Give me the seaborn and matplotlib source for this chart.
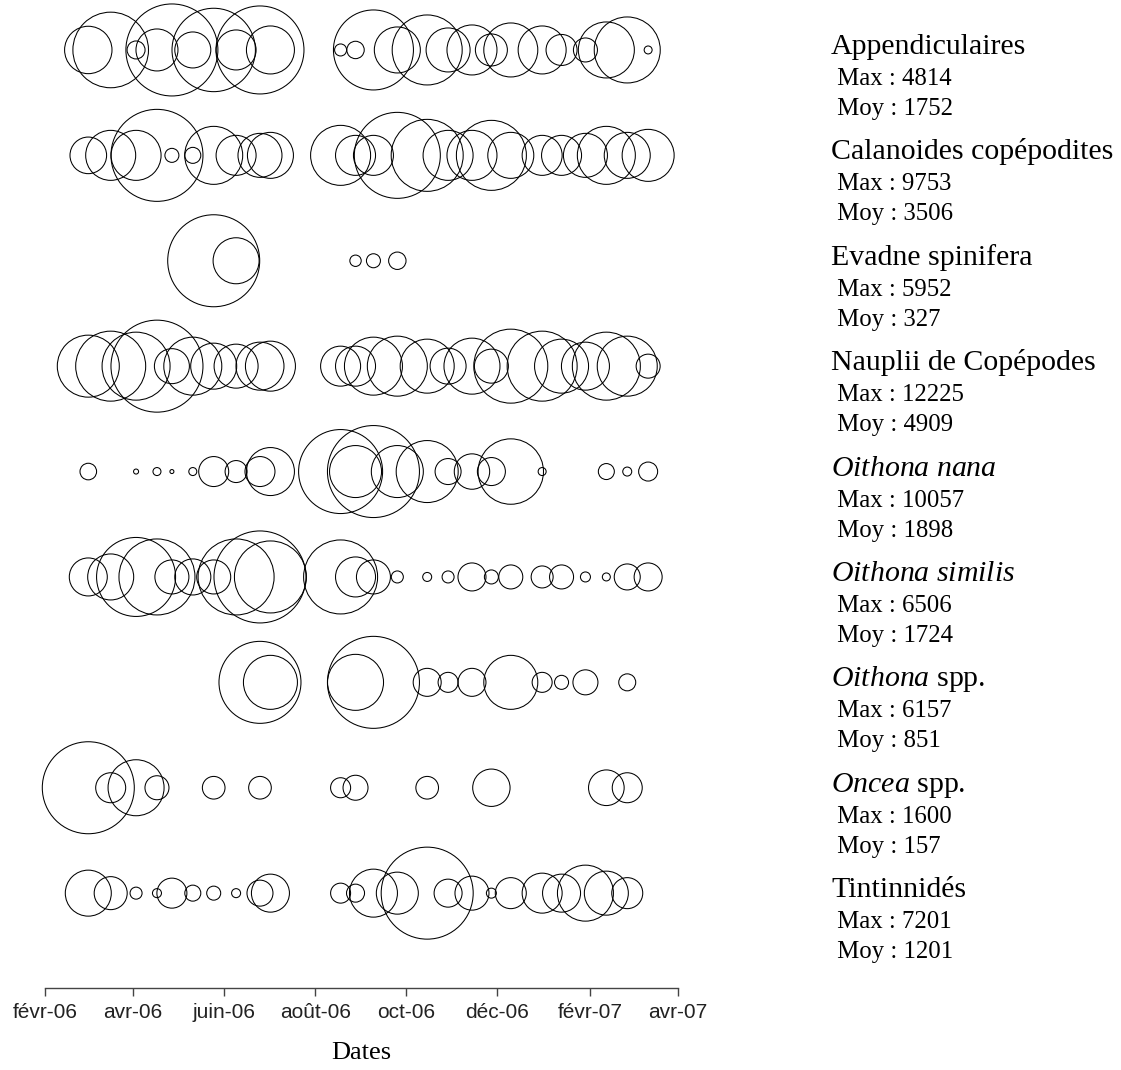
import pandas as pd
import seaborn as sns
import matplotlib
matplotlib.use("Agg")
import matplotlib.pyplot as plt
from matplotlib import transforms

# sampling dates (shared by every taxon)
dates = ["2006-03-02", "2006-03-17", "2006-04-03", "2006-04-17", "2006-04-27",
         "2006-05-11", "2006-05-25", "2006-06-09", "2006-06-25", "2006-07-02",
         "2006-08-18", "2006-08-28", "2006-09-09", "2006-09-25", "2006-10-15",
         "2006-10-29", "2006-11-14", "2006-11-27", "2006-12-10", "2006-12-31",
         "2007-01-13", "2007-01-29", "2007-02-12", "2007-02-26", "2007-03-12"]

species = ["Appendiculaires", "Calanoides copépodites", "Evadne spinifera",
           "Nauplii de Copépodes", r"$\mathit{Oithona\ nana}$",
           r"$\mathit{Oithona\ similis}$", r"$\mathit{Oithona}$ spp.",
           r"$\mathit{Oncea}$ spp.", "Tintinnidés"]
maxima = [4814, 9753, 5952, 12225, 10057, 6506, 6157, 1600, 7201]
moyennes = [1752, 3506, 327, 4909, 1898, 1724, 851, 157, 1201]

# abundances (0 = absent)
appendiculaires = [1278, 3250, 184, 1003, 4814, 737, 3956, 910, 4404, 1310, 82, 172, 3640,
                   1204, 2787, 1101, 1422, 582, 1658, 1310, 547, 328, 1784, 2478, 36]
calanoides = [1544, 2881, 2881, 9753, 226, 295, 3876, 1844, 2231, 2438, 4148, 1844, 1844,
              8522, 5973, 2881, 2881, 5646, 2438, 1844, 1844, 2231, 3876, 2438, 3116]
evadne = [0, 0, 0, 0, 0, 0, 5952, 1488, 0, 0, 0, 91, 138,
          213, 0, 0, 0, 0, 0, 0, 0, 0, 0, 0, 0]
nauplii = [5552, 7077, 6679, 12225, 1769, 4858, 3056, 2796, 3328, 3611, 2311, 2311, 4858,
           5200, 4212, 1872, 4529, 1670, 7909, 7077, 4212, 3328, 6679, 5200, 832]
oithona_nana = [327, 0, 30, 76, 19, 76, 1069, 575, 1069, 2738, 8384, 3213, 10057,
                3213, 4567, 803, 1489, 932, 5082, 76, 0, 0, 304, 96, 429]
oithona_similis = [1110, 1627, 4797, 4440, 889, 1000, 889, 4440, 6506, 3985, 4209, 1230, 889,
                   111, 62, 111, 603, 151, 443, 372, 443, 77, 49, 520, 603]
oithona_spp = [0, 0, 0, 0, 0, 0, 0, 0, 4891, 2121, 0, 2281, 6157,
               0, 570, 291, 570, 0, 2121, 291, 143, 455, 0, 210, 0]
oncea_spp = [1600, 170, 593, 109, 0, 0, 97, 0, 97, 0, 76, 118, 0,
             0, 97, 0, 0, 264, 0, 0, 0, 0, 240, 170, 0]
tintinnides = [1800, 927, 123, 69, 766, 218, 167, 69, 575, 1229, 340, 276, 1960,
               1501, 7201, 667, 983, 85, 818, 1361, 1229, 2668, 1647, 818, 0]

series = [appendiculaires, calanoides, evadne, nauplii, oithona_nana,
          oithona_similis, oithona_spp, oncea_spp, tintinnides]

tick_dates = ["2006-02-01", "2006-04-01", "2006-06-01", "2006-08-01",
              "2006-10-01", "2006-12-01", "2007-02-01", "2007-04-01"]
tick_labels = ["févr-06", "avr-06", "juin-06", "août-06",
               "oct-06", "déc-06", "févr-07", "avr-07"]

# long table, each taxon scaled to its own maximum
records = []
for i, vals in enumerate(series):
    vmax = max(vals)
    for d, v in zip(dates, vals):
        if v > 0:
            records.append({"date": pd.Timestamp(d), "row": i, "rel": v / vmax})
df = pd.DataFrame(records)

sns.set_style("ticks")
plt.rcParams["font.family"] = ["Liberation Serif", "DejaVu Serif"]
plt.rcParams["mathtext.fontset"] = "custom"
plt.rcParams["mathtext.rm"] = "Liberation Serif"
plt.rcParams["mathtext.it"] = "Liberation Serif:italic"
plt.rcParams["text.color"] = "black"
plt.rcParams["axes.labelcolor"] = "black"

fig = plt.figure(figsize=(11.21, 10.70), dpi=100)
ax = fig.add_axes([45 / 1121, 82 / 1070, 633 / 1121, 988 / 1070])

r_max_pt = 46 * 0.72
sns.scatterplot(data=df, x="date", y="row", size="rel", sizes=(0, (2 * r_max_pt) ** 2),
                size_norm=(0, 1), facecolor="none", edgecolor="black", linewidth=0.75,
                legend=False, clip_on=False, ax=ax)

ax.set_xlim(pd.Timestamp(tick_dates[0]), pd.Timestamp(tick_dates[-1]))
ax.set_ylim(8.90, -0.474)
ax.set_yticks([])
ax.set_ylabel("")
ax.set_xticks(pd.to_datetime(tick_dates))
ax.set_xticklabels(tick_labels, family="Liberation Sans", fontsize=15, color="#222222")
ax.tick_params(axis="x", length=6, width=1, color="#444444", pad=5)
ax.set_xlabel("Dates", fontsize=19, labelpad=14)
for side in ["top", "right", "left"]:
    ax.spines[side].set_visible(False)
ax.spines["bottom"].set_color("#444444")
ax.spines["bottom"].set_linewidth(1)

# labels on the right
trans = transforms.blended_transform_factory(fig.transFigure, ax.transData)
for i, name in enumerate(species):
    ax.annotate(name, xy=(831 / 1121, i), xycoords=trans, xytext=(0, -4 * 0.72),
                textcoords="offset points", va="baseline", fontsize=21.5,
                annotation_clip=False)
    ax.annotate(f" Max : {maxima[i]}", xy=(831 / 1121, i), xycoords=trans,
                xytext=(0, -35 * 0.72), textcoords="offset points", va="baseline",
                fontsize=17.8, annotation_clip=False)
    ax.annotate(f" Moy : {moyennes[i]}", xy=(831 / 1121, i), xycoords=trans,
                xytext=(0, -65 * 0.72), textcoords="offset points", va="baseline",
                fontsize=17.8, annotation_clip=False)

fig.savefig("out.png", dpi=100)
